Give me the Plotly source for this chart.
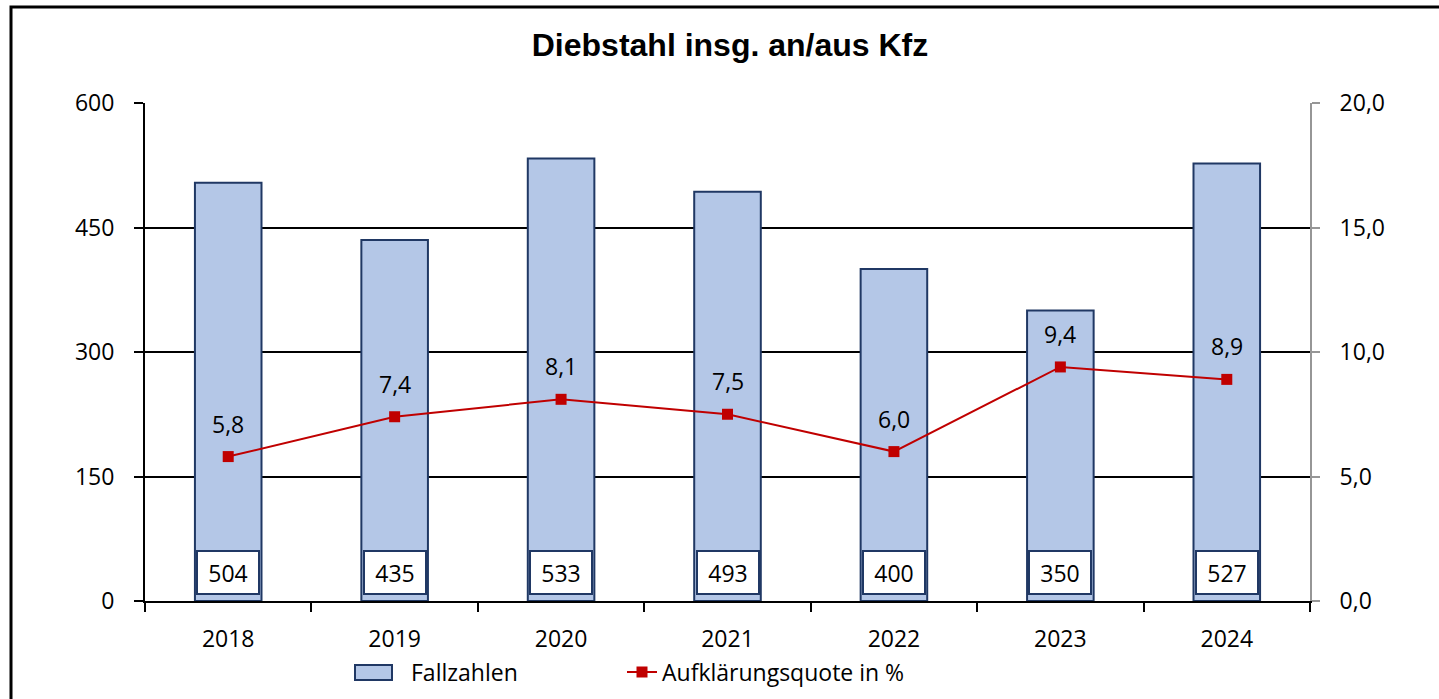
import plotly.graph_objects as go

years = ["2018", "2019", "2020", "2021", "2022", "2023", "2024"]
fallzahlen = [504, 435, 533, 493, 400, 350, 527]
quote = [5.8, 7.4, 8.1, 7.5, 6.0, 9.4, 8.9]
quote_labels = ["5,8", "7,4", "8,1", "7,5", "6,0", "9,4", "8,9"]
left_ticks = [0, 150, 300, 450, 600]
right_ticks = [0, 5, 10, 15, 20]
right_tick_labels = ["0,0", "5,0", "10,0", "15,0", "20,0"]

FONT = "Open Sans"
FS = 23
BAR_FILL = "#B4C7E7"
BAR_LINE = "#203864"
RED = "#C00000"

# plot area in pixels
L, R, T, B = 145, 1310, 103, 601
W, H = 1439, 699
PW, PH = R - L, B - T


def px(x):
    return (x - L) / PW


def py(y):
    return (B - y) / PH


fig = go.Figure()
fig.add_trace(go.Bar(
    x=years, y=fallzahlen, name="Fallzahlen",
    marker=dict(color=BAR_FILL, line=dict(color=BAR_LINE, width=2)),
    yaxis="y", showlegend=False,
))
fig.add_trace(go.Scatter(
    x=years, y=quote, name="Aufklärungsquote in %", yaxis="y2",
    mode="lines+markers",
    line=dict(color=RED, width=2),
    marker=dict(symbol="square", size=11, color=RED),
))

annotations = []
for i, v in enumerate(fallzahlen):
    annotations.append(dict(
        x=i, y=0, xref="x", yref="y", text=str(v), showarrow=False,
        yanchor="middle", yshift=29, width=56, height=37,
        bgcolor="white", bordercolor=BAR_LINE, borderwidth=2, borderpad=2,
        font=dict(family=FONT, size=FS, color="black"),
    ))
for i, (v, t) in enumerate(zip(quote, quote_labels)):
    annotations.append(dict(
        x=i, y=v, xref="x", yref="y2", text=t, showarrow=False,
        yanchor="middle", yshift=33,
        font=dict(family=FONT, size=FS, color="black"),
    ))
# legend entry for the bars (wide rectangle like the original)
annotations.append(dict(
    x=px(409), y=py(672), xref="paper", yref="paper", text="Fallzahlen",
    showarrow=False, xanchor="left", yanchor="middle",
    font=dict(family=FONT, size=FS, color="black"),
))

fig.update_layout(
    width=W, height=H,
    margin=dict(l=L, r=W - R, t=T, b=H - B, autoexpand=False),
    paper_bgcolor="white", plot_bgcolor="white",
    title=dict(text="<b>Diebstahl insg. an/aus Kfz</b>", x=730 / W, xanchor="center",
               y=1 - 45 / H, yanchor="middle",
               font=dict(family="Liberation Sans, Arial", size=32, color="black")),
    bargap=0.6,
    showlegend=True,
    legend=dict(orientation="h", x=px(622), xanchor="left",
                y=py(672), yanchor="middle",
                font=dict(family=FONT, size=FS, color="black"),
                bgcolor="rgba(0,0,0,0)"),
    xaxis=dict(type="category", range=[-0.5, 6.5], showline=True, linecolor="black", linewidth=2,
               ticks="outside", tickson="boundaries", ticklen=9, tickwidth=2, tickcolor="black",
               showgrid=False, ticklabelstandoff=16, tickangle=0,
               tickfont=dict(family=FONT, size=FS, color="black")),
    yaxis=dict(range=[0, 600], tickvals=left_ticks, ticktext=[str(t) for t in left_ticks],
               showline=True, linecolor="black", linewidth=2,
               ticks="outside", ticklen=9, tickwidth=2, tickcolor="black",
               showgrid=True, gridcolor="black", gridwidth=2, zeroline=False,
               ticklabelstandoff=15,
               tickfont=dict(family=FONT, size=FS, color="black")),
    yaxis2=dict(range=[0, 20], tickvals=right_ticks, ticktext=right_tick_labels,
                overlaying="y", side="right",
                showline=True, linecolor="#969696", linewidth=2,
                ticks="outside", ticklen=8, tickwidth=2, tickcolor="#969696",
                showgrid=False, zeroline=False, ticklabelstandoff=15,
                tickfont=dict(family=FONT, size=FS, color="black")),
    annotations=annotations,
    shapes=[
        dict(type="rect", xref="paper", yref="paper",
             x0=px(11), x1=px(1500), y0=py(760), y1=py(7),
             line=dict(color="black", width=3), fillcolor="rgba(0,0,0,0)", layer="below"),
        dict(type="rect", xref="paper", yref="paper",
             x0=px(355), x1=px(392), y0=py(680), y1=py(665),
             line=dict(color=BAR_LINE, width=2), fillcolor=BAR_FILL, layer="above"),
    ],
)

fig.write_html("out.html", config={"displayModeBar": False},
               post_script="document.body.style.margin='0';document.body.style.overflow='hidden';")
